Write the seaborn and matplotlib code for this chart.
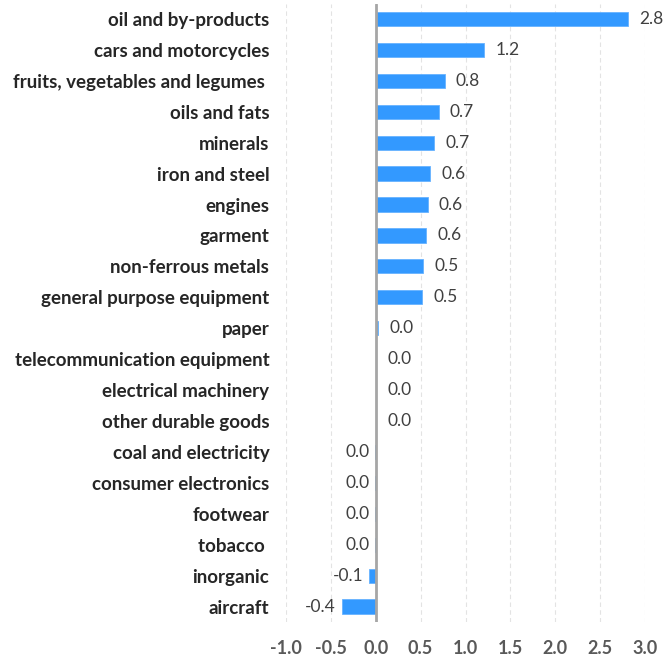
import matplotlib
matplotlib.use("Agg")
import matplotlib.pyplot as plt
import seaborn as sns
import pandas as pd

categories = ["oil and by-products", "cars and motorcycles", "fruits, vegetables and legumes ",
              "oils and fats", "minerals", "iron and steel", "engines", "garment",
              "non-ferrous metals", "general purpose equipment", "paper",
              "telecommunication equipment", "electrical machinery", "other durable goods",
              "coal and electricity", "consumer electronics", "footwear", "tobacco ",
              "inorganic", "aircraft"]
values = [2.81, 1.21, 0.77, 0.70, 0.65, 0.61, 0.58, 0.56, 0.53, 0.52, 0.03,
          0.005, 0.005, 0.005, -0.005, -0.005, -0.005, -0.01, -0.08, -0.38]
xticks = [-1.0, -0.5, 0.0, 0.5, 1.0, 1.5, 2.0, 2.5, 3.0]

df = pd.DataFrame({"category": categories, "value": values})

sns.set_theme(style="white")
plt.rcParams["font.family"] = ["Lato", "DejaVu Sans"]

fig = plt.figure(figsize=(6.66, 6.62), dpi=100)
ax = fig.add_axes([0.4294, 0.0604, 0.5391, 0.9343])

sns.barplot(data=df, y="category", x="value", orient="h", color="#3399FF",
            saturation=1, width=0.46, edgecolor="#66B2FF", linewidth=0.6, ax=ax)

ax.set_xlim(-1.0, 3.0)
ax.set_ylim(19.5, -0.5)
ax.set_xticks(xticks)
ax.set_xticklabels([f"{t:.1f}" for t in xticks], fontsize=13, fontweight="bold", color="#595959")
ax.tick_params(axis="y", labelsize=13.5, labelcolor="#262626", length=0, pad=12)
ax.tick_params(axis="x", length=0, pad=13)
for lbl in ax.get_yticklabels():
    lbl.set_fontweight("bold")
ax.set_xlabel("")
ax.set_ylabel("")
for s in ax.spines.values():
    s.set_visible(False)
for t in xticks:
    ax.axvline(t, color="#E3E3E3", linestyle=(0, (4, 3)), linewidth=0.8, zorder=0)
ax.axvline(0, color="#A6A6A6", linewidth=2, zorder=3)

def fmt(v):
    s = f"{v:.1f}"
    return "0.0" if s == "-0.0" else s

for i, v in enumerate(values):
    if v >= 0:
        ax.annotate(fmt(v), (v, i), xytext=(8, 0), textcoords="offset points",
                    ha="left", va="center", fontsize=12.5, color="#404040", annotation_clip=False)
    else:
        ax.annotate(fmt(v), (v, i), xytext=(-4, 0), textcoords="offset points",
                    ha="right", va="center", fontsize=12.5, color="#404040", annotation_clip=False)

fig.savefig("out.png", dpi=100)
